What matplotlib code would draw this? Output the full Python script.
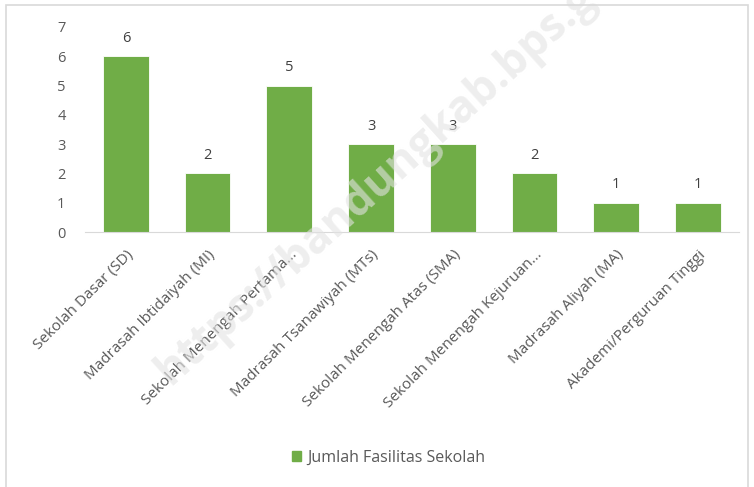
import matplotlib
matplotlib.use('Agg')
import matplotlib.pyplot as plt
from matplotlib.patches import Rectangle

categories = ['Sekolah Dasar (SD)', 'Madrasah Ibtidaiyah (MI)', 'Sekolah Menengah Pertama...',
              'Madrasah Tsanawiyah (MTs)', 'Sekolah Menengah Atas (SMA)',
              'Sekolah Menengah Kejuruan...', 'Madrasah Aliyah (MA)', 'Akademi/Perguruan Tinggi']
values = [6, 2, 5, 3, 3, 2, 1, 1]
series_name = 'Jumlah Fasilitas Sekolah'

GREEN = '#70ad47'
TEXT = '#595959'
plt.rcParams['font.family'] = ['Open Sans', 'DejaVu Sans']

fig = plt.figure(figsize=(7.54, 4.87), dpi=100)
fig.patches.append(Rectangle((0.008, -0.01), 0.984, 1.0, transform=fig.transFigure,
                             fill=False, edgecolor='#d9d9d9', linewidth=1.2))

ax = fig.add_axes([0.1127, 0.5236, 0.8673, 0.421])
x = list(range(len(categories)))
ax.bar(x, values, width=0.56, color=GREEN, edgecolor='white', linewidth=0.6, zorder=2)
for xi, v in zip(x, values):
    ax.text(xi, v + 0.35, str(v), ha='center', va='bottom', fontsize=10.5, color='#404040')

ax.set_xlim(-0.5, len(categories) - 0.5)
ax.set_ylim(0, 7)
ax.set_yticks(range(0, 8))
ax.set_xticks(x)
ax.set_xticklabels(categories, rotation=45, ha='right', rotation_mode='anchor',
                   fontsize=11, color=TEXT)
ax.tick_params(axis='y', length=0, labelsize=10.5, labelcolor=TEXT, pad=14)
ax.tick_params(axis='x', length=0, pad=11)
for s in ['top', 'right', 'left']:
    ax.spines[s].set_visible(False)
ax.spines['bottom'].set_color('#d9d9d9')

fig.legend([Rectangle((0, 0), 1, 1, color=GREEN)], [series_name], loc='center',
           bbox_to_anchor=(0.515, 0.06), frameon=False, fontsize=11.5, handlelength=0.6,
           handleheight=0.6, handletextpad=0.35, labelcolor=TEXT)

# watermark (runs off the top edge, as in the source image)
fig.text(0.195, 0.19, 'https://bandungkab.bps.go.id', rotation=42, fontsize=32,
         fontweight='bold', color='#e3e3e3', alpha=0.6, ha='left', va='bottom', zorder=0)

fig.savefig('out.png', dpi=100)
